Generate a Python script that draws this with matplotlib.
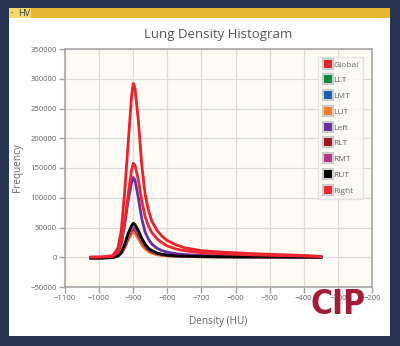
import matplotlib.pyplot as plt
from matplotlib.lines import Line2D
from matplotlib.patches import Rectangle

plt.rcParams['font.family'] = ['Open Sans', 'DejaVu Sans']

# density bins (HU)
hu = [-1024, -990, -960, -945, -935, -925, -915, -905, -900, -895, -885, -875, -865, -855,
      -845, -830, -815, -800, -775, -750, -700, -650, -600, -550, -500, -450, -400, -350]

glob = [0, 500, 3000, 15000, 45000, 110000, 190000, 270000, 292000, 285000, 230000, 155000, 105000, 78000,
        60000, 45000, 35000, 28000, 21000, 16000, 11000, 9000, 7500, 6000, 5000, 4000, 3000, 1500]
llt = [-1000, -800, 0, 2500, 7000, 17000, 32000, 43000, 46000, 44000, 35000, 25000, 17000, 12000,
       8500, 5500, 4000, 3000, 2000, 1500, 1000, 800, 700, 600, 500, 400, 300, 0]
lmt = [-1000, -800, 0, 2500, 7000, 17000, 31000, 41000, 44000, 42000, 33000, 23000, 16000, 11000,
       8000, 5000, 3600, 2700, 1800, 1300, 900, 700, 600, 500, 400, 300, 200, 0]
lut = [-1000, -800, 0, 2500, 7000, 16000, 29000, 39000, 42000, 40000, 31000, 21000, 14000, 9500,
       6500, 4200, 3000, 2200, 1500, 1100, 800, 600, 500, 400, 300, 250, 200, 0]
left = [0, 200, 1500, 8000, 23000, 55000, 95000, 125000, 134000, 130000, 100000, 65000, 42000, 30000,
        22000, 15000, 11000, 8500, 6000, 4500, 3000, 2400, 2000, 1700, 1400, 1200, 1000, 500]
rlt = [-1000, -800, 0, 2500, 7500, 18000, 33000, 45000, 48000, 46000, 37000, 26000, 18000, 12500,
       9000, 6000, 4300, 3200, 2200, 1600, 1100, 900, 750, 650, 550, 450, 350, 0]
rmt = [-1000, -800, 0, 2500, 7500, 18500, 34500, 47000, 50000, 48000, 39000, 27500, 19000, 13000,
       9500, 6300, 4500, 3400, 2300, 1700, 1100, 900, 750, 650, 550, 450, 350, 0]
rut = [-1500, -1500, -500, 2000, 8000, 22000, 40000, 53000, 57000, 55000, 45000, 32000, 22000, 15000,
       11000, 7000, 5000, 3500, 2500, 1800, 1200, 1000, 800, 700, 600, 500, 400, 0]
right = [0, 300, 1500, 8000, 24000, 60000, 105000, 146000, 158000, 155000, 130000, 95000, 68000, 52000,
         41000, 31000, 24000, 19000, 14000, 11000, 7500, 6000, 5000, 4000, 3300, 2600, 2000, 1000]

names = ['Global', 'LLT', 'LMT', 'LUT', 'Left', 'RLT', 'RMT', 'RUT', 'Right']
series = [glob, llt, lmt, lut, left, rlt, rmt, rut, right]
colors = ['#e8212b', '#0e8a3e', '#1d5fae', '#f07e22', '#6a2e9e', '#9e1521', '#b5358f', '#000000', '#ee2631']

xticks = list(range(-1100, -199, 100))
yticks = list(range(-50000, 350001, 50000))

fig = plt.figure(figsize=(4, 3.46), dpi=100)
fig.patch.set_facecolor('#283352')

# white panel and yellow header bar
fig.add_artist(Rectangle((9 / 400, 1 - 336 / 346), 381 / 400, 328 / 346,
                         transform=fig.transFigure, facecolor='white', edgecolor='none', zorder=-3))
fig.add_artist(Rectangle((9 / 400, 1 - 18 / 346), 381 / 400, 10 / 346,
                         transform=fig.transFigure, facecolor='#e6b72e', edgecolor='none', zorder=-2))
fig.add_artist(Rectangle((9 / 400, 1 - 18 / 346), 22 / 400, 10 / 346,
                         transform=fig.transFigure, facecolor='#f7d86e', edgecolor='none', zorder=-1))
fig.text(18.5 / 400, 1 - 13.5 / 346, 'HV', color='#3a3a3a', fontsize=6.5, va='center')
fig.text(11 / 400, 1 - 13 / 346, '-', color='#333333', fontsize=5, va='center')

ax = fig.add_axes([65 / 400, 1 - 287 / 346, 307 / 400, 238 / 346])
ax.set_facecolor('#fdfbf3')

for vals, c, n in zip(series, colors, names):
    ax.plot(hu, vals, color=c, lw=2.0, label=n, solid_joinstyle='round')

ax.set_xlim(-1100, -200)
ax.set_ylim(-50000, 350000)
ax.set_xticks(xticks)
ax.set_yticks(yticks)
ax.grid(True, color='#dcdcdc', lw=0.9)
ax.set_axisbelow(True)
for s in ax.spines.values():
    s.set_color('#a8a8a8')
    s.set_linewidth(1.2)
ax.tick_params(colors='#a0a0a0', labelcolor='#666666', labelsize=5.6, length=4, width=1, pad=2)

ax.set_title('Lung Density Histogram', color='#555555', fontsize=9.5, y=1.045, pad=0)
ax.set_xlabel('Density (HU)', color='#666666', fontsize=7.2)
ax.set_ylabel('Frequency', color='#666666', fontsize=7.2)
ax.xaxis.set_label_coords(0.5, -0.122)
ax.yaxis.set_label_coords(-0.137, 0.5)

handles = [Line2D([], [], ls='none', marker='s', markersize=7, markerfacecolor=c,
                  markeredgecolor='#cccccc', markeredgewidth=1.5) for c in colors]
leg = ax.legend(handles, names, loc='upper right', bbox_to_anchor=(0.970, 0.968), fontsize=6,
                labelspacing=0.95, handletextpad=0.1, handlelength=1.2, borderpad=0.5,
                borderaxespad=0, frameon=True, fancybox=False, labelcolor='#666666')
leg.get_frame().set_edgecolor('#dddddd')
leg.get_frame().set_facecolor('#fdfbf3')

fig.text(338.5 / 400, 1 - 304.5 / 346, 'CIP', color='#a31d36', fontsize=24, fontweight='bold',
         fontstretch='condensed', ha='center', va='center', family=['DejaVu Sans'])

fig.savefig('out.png', dpi=100, facecolor=fig.get_facecolor())
